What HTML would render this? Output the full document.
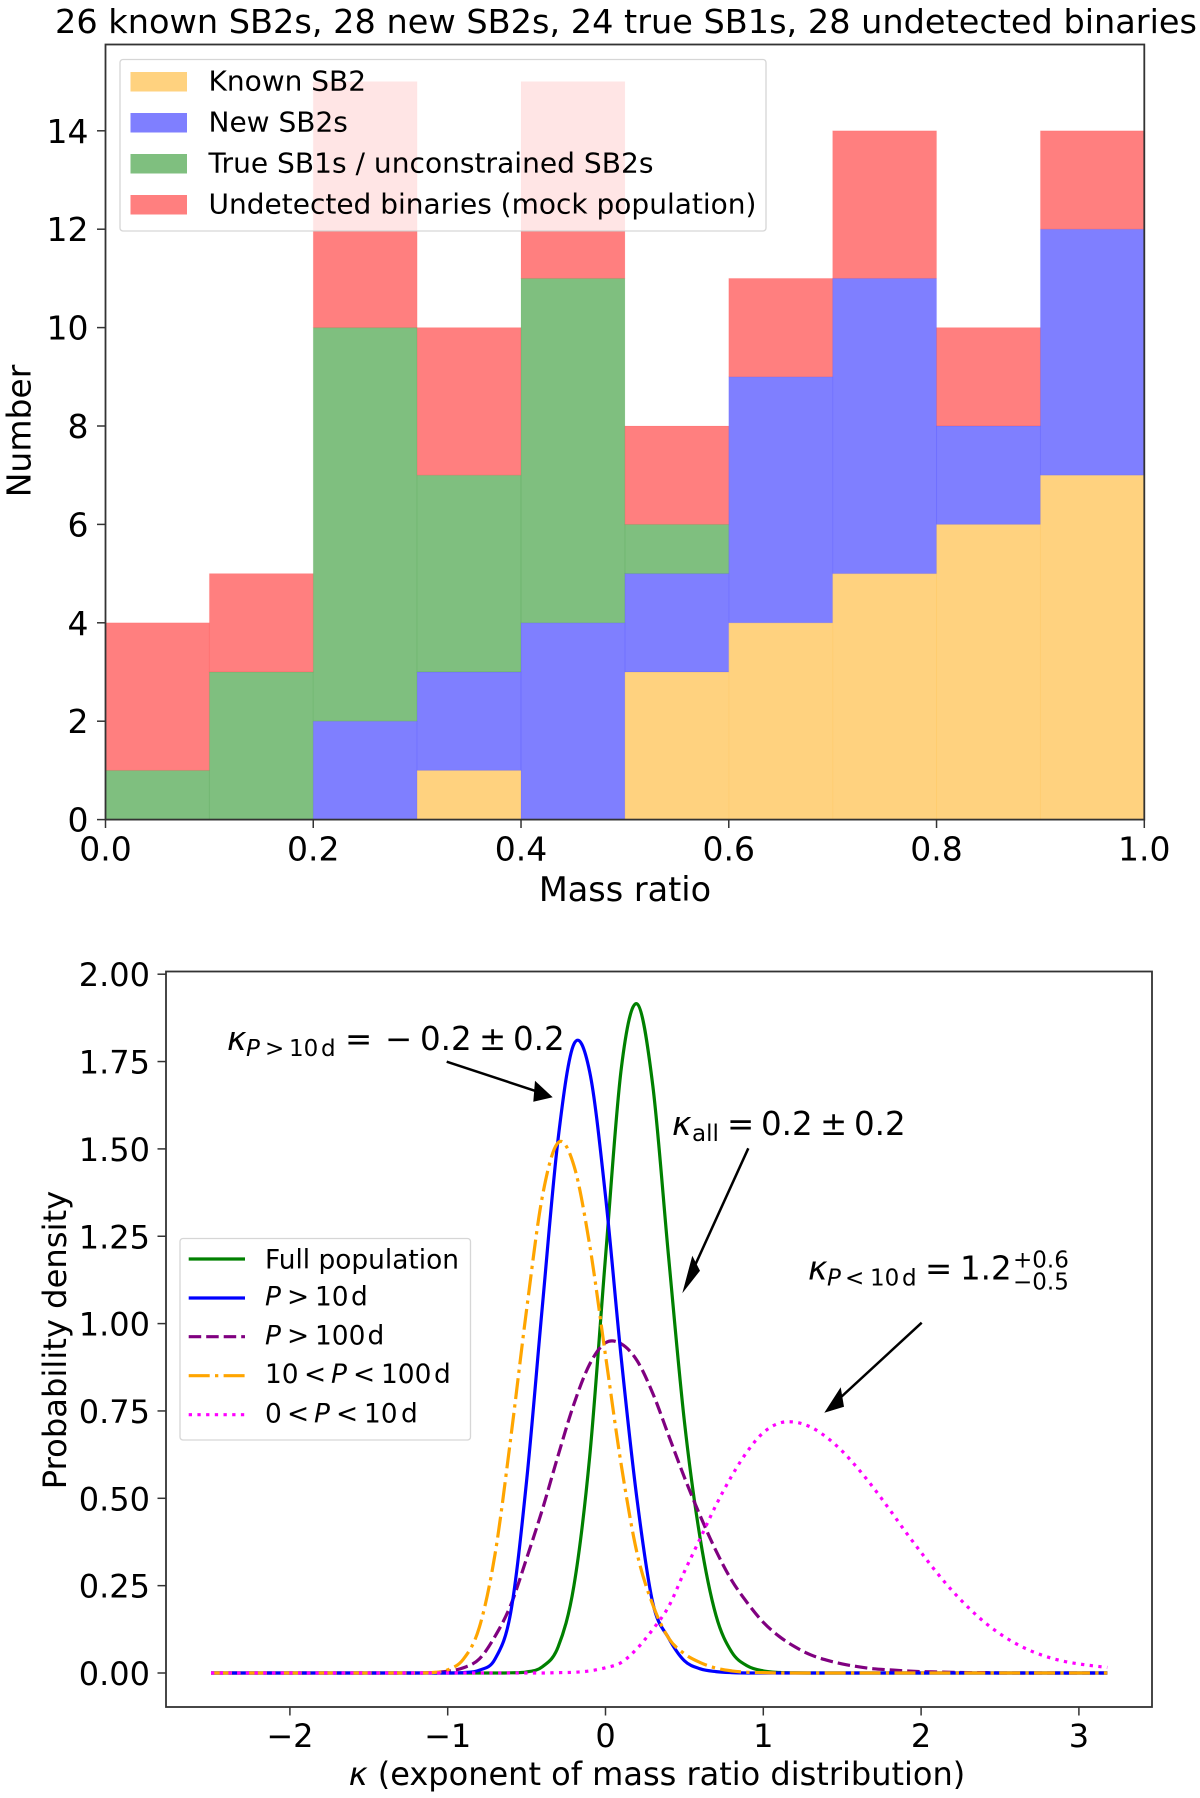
<!DOCTYPE html>
<html lang="en">
<head>
<meta charset="utf-8">
<title>Mass ratio distribution</title>
<style>
  html, body { margin: 0; padding: 0; background: #fff; }
  svg { display: block; font-family: "DejaVu Sans", "Liberation Sans", sans-serif; fill: #000; }
  .it { font-style: italic; }
</style>
</head>
<body>
<svg id="figure" xmlns="http://www.w3.org/2000/svg" width="1200" height="1798" viewBox="0 0 1200 1798">
  <rect x="0" y="0" width="1200" height="1798" fill="#fff"></rect>

  <text x="55" y="33" font-size="32.5" textLength="1142" lengthAdjust="spacingAndGlyphs">26 known SB2s, 28 new SB2s, 24 true SB1s, 28 undetected binaries</text>
  <g id="hist-bars"></g>
  <g id="hist-axes"></g>
  <text x="625" y="901" font-size="33.5" text-anchor="middle">Mass ratio</text>
  <text transform="translate(30.5 431) rotate(-90)" font-size="33" text-anchor="middle">Number</text>

  <g>
    <rect x="120" y="59.5" width="646" height="171.5" rx="3" fill="#fff" fill-opacity="0.8" stroke="#ccc" stroke-opacity="0.8" stroke-width="1.3"></rect>
    <rect x="130.5" y="72" width="56.5" height="19.5" fill="#ffa500" fill-opacity="0.5"></rect>
    <text x="208.5" y="90.5" font-size="28">Known SB2</text>
    <rect x="130.5" y="113" width="56.5" height="19.5" fill="#0000ff" fill-opacity="0.5"></rect>
    <text x="208.5" y="131.5" font-size="28">New SB2s</text>
    <rect x="130.5" y="154" width="56.5" height="19.5" fill="#008000" fill-opacity="0.5"></rect>
    <text x="208.5" y="172.5" font-size="28" textLength="445" lengthAdjust="spacingAndGlyphs">True SB1s / unconstrained SB2s</text>
    <rect x="130.5" y="195" width="56.5" height="19.5" fill="#ff0000" fill-opacity="0.5"></rect>
    <text x="208.5" y="213.5" font-size="28">Undetected binaries (mock population)</text>
  </g>

  <g id="density-curves"></g>
  <g id="density-axes"></g>
  <text x="657" y="1785" font-size="32" text-anchor="middle"><tspan class="it">κ</tspan> (exponent of mass ratio distribution)</text>
  <text transform="translate(66 1340) rotate(-90)" font-size="32.2" text-anchor="middle">Probability density</text>

  <g>
    <text font-size="32.5" y="1050"><tspan class="it" x="227" font-size="33">κ</tspan><tspan class="it" x="246" y="1056" font-size="23">P</tspan><tspan x="265" y="1056" font-size="23">&gt;</tspan><tspan x="289" y="1056" font-size="23">10</tspan><tspan x="321" y="1056" font-size="23">d</tspan><tspan x="345" y="1050">=</tspan><tspan x="385" y="1050">−</tspan><tspan x="420" y="1050">0.2</tspan><tspan x="479" y="1050">±</tspan><tspan x="513" y="1050">0.2</tspan></text>
    <line x1="446.7" y1="1061.7" x2="538" y2="1091.8" stroke="#000" stroke-width="2.5"></line>
    <polygon points="552.7,1097.3 533.3,1101.7 535,1080.7" fill="#000"></polygon>
  </g>
  <g>
    <text font-size="32.5" y="1135"><tspan class="it" x="672" font-size="33">κ</tspan><tspan x="692" y="1141" font-size="23">all</tspan><tspan x="727" y="1135">=</tspan><tspan x="761" y="1135">0.2</tspan><tspan x="820" y="1135">±</tspan><tspan x="854" y="1135">0.2</tspan></text>
    <line x1="748.3" y1="1148.3" x2="692" y2="1272" stroke="#000" stroke-width="2.5"></line>
    <polygon points="682.3,1293.3 692.3,1255.7 700,1270.7" fill="#000"></polygon>
  </g>
  <g>
    <text font-size="32.5" y="1279.5"><tspan class="it" x="808" font-size="33">κ</tspan><tspan class="it" x="827" y="1285.5" font-size="23">P</tspan><tspan x="845" y="1285.5" font-size="23">&lt;</tspan><tspan x="870" y="1285.5" font-size="23">10</tspan><tspan x="902" y="1285.5" font-size="23">d</tspan><tspan x="925" y="1279.5">=</tspan><tspan x="960" y="1279.5">1.2</tspan><tspan x="1013" y="1267.5" font-size="23">+0.6</tspan><tspan x="1013" y="1289.5" font-size="23">−0.5</tspan></text>
    <line x1="921.7" y1="1322.7" x2="840" y2="1398" stroke="#000" stroke-width="2.5"></line>
    <polygon points="824.3,1412.7 840.7,1387.3 844,1406.7" fill="#000"></polygon>
  </g>

  <g>
    <rect x="180" y="1238.5" width="290.5" height="201.5" rx="3" fill="#fff" fill-opacity="0.8" stroke="#ccc" stroke-opacity="0.8" stroke-width="1.3"></rect>
    <line x1="188.7" x2="245" y1="1259" y2="1259" stroke="#008000" stroke-width="3.2"></line>
    <text x="265" y="1268.5" font-size="26.4">Full population</text>
    <line x1="188.7" x2="245" y1="1298" y2="1298" stroke="#0000ff" stroke-width="3.2"></line>
    <text font-size="26.4" y="1305.5"><tspan class="it" x="265">P</tspan><tspan x="287">&gt;</tspan><tspan x="315">10</tspan><tspan x="351">d</tspan></text>
    <line x1="188.7" x2="245" y1="1336.7" y2="1336.7" stroke="#800080" stroke-width="3.2" stroke-dasharray="12.5 5"></line>
    <text font-size="26.4" y="1344.5"><tspan class="it" x="265">P</tspan><tspan x="287">&gt;</tspan><tspan x="315">100</tspan><tspan x="367.5">d</tspan></text>
    <line x1="188.7" x2="245" y1="1375.7" y2="1375.7" stroke="#ffa500" stroke-width="3.2" stroke-dasharray="21 5.3 3.3 5.3"></line>
    <text font-size="26.4" y="1383"><tspan x="265">10</tspan><tspan x="304">&lt;</tspan><tspan class="it" x="331">P</tspan><tspan x="353">&lt;</tspan><tspan x="381">100</tspan><tspan x="434">d</tspan></text>
    <line x1="188.7" x2="245" y1="1414.7" y2="1414.7" stroke="#ff00ff" stroke-width="3.2" stroke-dasharray="3.3 5.4"></line>
    <text font-size="26.4" y="1422.5"><tspan x="265">0</tspan><tspan x="287">&lt;</tspan><tspan class="it" x="314">P</tspan><tspan x="336">&lt;</tspan><tspan x="364">10</tspan><tspan x="401">d</tspan></text>
  </g>
</svg>

<script>
// Histogram data (counts per mass-ratio bin)
const binEdges = [0, 0.1, 0.2, 0.3, 0.4, 0.5, 0.6, 0.7, 0.8, 0.9, 1.0];
const knownSB2 = [0, 0, 0, 1, 0, 3, 4, 5, 6, 7];
const newSB2 = [0, 0, 2, 2, 4, 2, 5, 6, 2, 5];
const trueSB1 = [1, 3, 8, 4, 7, 1, 0, 0, 0, 0];
const undetected = [3, 2, 5, 3, 4, 2, 2, 3, 2, 2];
const histXTicks = [0, 0.2, 0.4, 0.6, 0.8, 1.0];
const histXTickLabels = ['0.0', '0.2', '0.4', '0.6', '0.8', '1.0'];
const histYTicks = [0, 2, 4, 6, 8, 10, 12, 14];

// Density data (at shared kappa positions)
const kappaGrid = [-2.5, -2, -1.5, -1.2,
  -1.1, -1.0, -0.9, -0.8, -0.7, -0.6, -0.5, -0.4, -0.3, -0.2, -0.1,
  0, 0.1, 0.2, 0.3, 0.4, 0.5, 0.6, 0.7, 0.8, 0.9,
  1.0, 1.1, 1.2, 1.3, 1.4, 1.5, 1.6, 1.7, 1.8, 1.9,
  2.0, 2.1, 2.2, 2.3, 2.4, 2.5, 2.6, 2.7, 2.8, 2.9,
  3.0, 3.1, 3.18];
const densityFull = [0, 0, 0, 0,
  0, 0, 0, 0, 0, 0.0005, 0.003, 0.018, 0.075, 0.25, 0.62,
  1.19, 1.73, 1.915, 1.68, 1.19, 0.72, 0.385, 0.165, 0.06, 0.02,
  0.006, 0.0015, 0.0003, 0, 0, 0, 0, 0, 0, 0,
  0, 0, 0, 0, 0, 0, 0, 0, 0, 0,
  0, 0, 0];
const densityGt10 = [0, 0, 0, 0,
  0, 0, 0.001, 0.008, 0.04, 0.175, 0.55, 1.05, 1.53, 1.80, 1.72,
  1.365, 0.90, 0.496, 0.20, 0.10, 0.035, 0.012, 0.004, 0.001, 0,
  0, 0, 0, 0, 0, 0, 0, 0, 0, 0,
  0, 0, 0, 0, 0, 0, 0, 0, 0, 0,
  0, 0, 0];
const densityGt100 = [0, 0, 0, 0,
  0.001, 0.005, 0.015, 0.04, 0.105, 0.195, 0.328, 0.468, 0.623, 0.77, 0.884,
  0.945, 0.942, 0.894, 0.80, 0.68, 0.56, 0.45, 0.35, 0.265, 0.2,
  0.145, 0.105, 0.075, 0.052, 0.037, 0.026, 0.018, 0.012, 0.009, 0.006,
  0.004, 0.003, 0.002, 0.001, 0.001, 0, 0, 0, 0, 0,
  0, 0, 0];
const density10to100 = [0, 0, 0, 0,
  0.001, 0.009, 0.04, 0.13, 0.34, 0.674, 1.04, 1.364, 1.518, 1.452, 1.224,
  0.909, 0.595, 0.343, 0.195, 0.10, 0.055, 0.03, 0.014, 0.006, 0.002,
  0.001, 0, 0, 0, 0, 0, 0, 0, 0, 0,
  0, 0, 0, 0, 0, 0, 0, 0, 0, 0,
  0, 0, 0];
const density0to10 = [0, 0, 0, 0,
  0, 0, 0, 0, 0, 0, 0, 0, 0.001, 0.002, 0.006,
  0.015, 0.03, 0.07, 0.125, 0.19, 0.29, 0.385, 0.48, 0.564, 0.635,
  0.688, 0.715, 0.718, 0.704, 0.675, 0.635, 0.585, 0.529, 0.468, 0.405,
  0.345, 0.287, 0.234, 0.187, 0.146, 0.112, 0.0843, 0.0625, 0.046, 0.034,
  0.026, 0.02, 0.016];
const densityXTicks = [-2, -1, 0, 1, 2, 3];
const densityXTickLabels = ['−2', '−1', '0', '1', '2', '3'];
const densityYTicks = [0, 0.25, 0.5, 0.75, 1.0, 1.25, 1.5, 1.75, 2.0];
const densityYTickLabels = ['0.00', '0.25', '0.50', '0.75', '1.00', '1.25', '1.50', '1.75', '2.00'];

const SVGNS = 'http://www.w3.org/2000/svg';
const SPINE = '#333';

// Axis functions
function histX(v) { return 105.5 + v * (1144.3 - 105.5); }
function histY(v) { return 819.6 - v * 49.2; }
function densX(v) { return 605.5 + v * 157.8; }
function densY(v) { return 1673 - v * 349.4; }

function make(tag, attrs, parent) {
  const el = document.createElementNS(SVGNS, tag);
  for (const k in attrs) el.setAttribute(k, attrs[k]);
  parent.appendChild(el);
  return el;
}

function curvePath(xs, ys) {
  const px = xs.map(densX);
  const py = ys.map(densY);
  const n = px.length;
  const m = [];
  for (let i = 0; i < n; i++) {
    const a = Math.max(i - 1, 0);
    const b = Math.min(i + 1, n - 1);
    m.push((py[b] - py[a]) / (px[b] - px[a]));
  }
  let d = 'M' + px[0].toFixed(2) + ' ' + py[0].toFixed(2);
  for (let i = 0; i < n - 1; i++) {
    const h = (px[i + 1] - px[i]) / 3;
    const c1y = Math.min(py[i] + m[i] * h, densY(0));
    const c2y = Math.min(py[i + 1] - m[i + 1] * h, densY(0));
    d += 'C' + (px[i] + h).toFixed(2) + ' ' + c1y.toFixed(2) + ' ' +
         (px[i + 1] - h).toFixed(2) + ' ' + c2y.toFixed(2) + ' ' +
         px[i + 1].toFixed(2) + ' ' + py[i + 1].toFixed(2);
  }
  return d;
}

// Histogram bars (stacked)
const barsGroup = document.getElementById('hist-bars');
const stackOrder = [
  { values: knownSB2, color: '#ffa500', key: 'known-sb2' },
  { values: newSB2, color: '#0000ff', key: 'new-sb2s' },
  { values: trueSB1, color: '#008000', key: 'true-sb1s' },
  { values: undetected, color: '#ff0000', key: 'undetected' }
];
for (let i = 0; i < knownSB2.length; i++) {
  let base = 0;
  for (const s of stackOrder) {
    const v = s.values[i];
    if (v > 0) {
      const bar = make('rect', {
        x: histX(binEdges[i]),
        y: histY(base + v),
        width: histX(binEdges[i + 1]) - histX(binEdges[i]),
        height: histY(base) - histY(base + v),
        fill: s.color,
        'fill-opacity': 0.5,
        stroke: s.color,
        'stroke-opacity': 0.07,
        'stroke-width': 1
      }, barsGroup);
      
      
    }
    base += v;
  }
}

// Histogram axes
const histAxes = document.getElementById('hist-axes');
const histFrame = make('rect', { x: 105.5, y: 44.5, width: 1038.8, height: 775.1, fill: 'none', stroke: SPINE, 'stroke-width': 1.8 }, histAxes);


histXTicks.forEach(function (t, i) {
  const mark = make('line', { x1: histX(t), x2: histX(t), y1: 819.6, y2: 828, stroke: SPINE, 'stroke-width': 1.5 }, histAxes);
  
  
  const label = make('text', { x: histX(t), y: 860.5, 'font-size': 33, 'text-anchor': 'middle' }, histAxes);
  label.textContent = histXTickLabels[i];
  
  
});
histYTicks.forEach(function (t) {
  const mark = make('line', { x1: 97, x2: 105.5, y1: histY(t), y2: histY(t), stroke: SPINE, 'stroke-width': 1.5 }, histAxes);
  
  
  const label = make('text', { x: 88.5, y: histY(t) + 12, 'font-size': 33, 'text-anchor': 'end' }, histAxes);
  label.textContent = String(t);
  
  
});

// Density curves
const curvesGroup = document.getElementById('density-curves');
const curveFull = make('path', { d: curvePath(kappaGrid, densityFull), fill: 'none', stroke: '#008000', 'stroke-width': 3.2 }, curvesGroup);


const curveGt100 = make('path', { d: curvePath(kappaGrid, densityGt100), fill: 'none', stroke: '#800080', 'stroke-width': 3.2, 'stroke-dasharray': '12.5 5' }, curvesGroup);


const curveGt10 = make('path', { d: curvePath(kappaGrid, densityGt10), fill: 'none', stroke: '#0000ff', 'stroke-width': 3.2 }, curvesGroup);


const curve10to100 = make('path', { d: curvePath(kappaGrid, density10to100), fill: 'none', stroke: '#ffa500', 'stroke-width': 3.2, 'stroke-dasharray': '21 5.3 3.3 5.3' }, curvesGroup);


const curve0to10 = make('path', { d: curvePath(kappaGrid, density0to10), fill: 'none', stroke: '#ff00ff', 'stroke-width': 3.2, 'stroke-dasharray': '3.3 5.4' }, curvesGroup);



// Density axes
const densAxes = document.getElementById('density-axes');
const densFrame = make('rect', { x: 166, y: 971.5, width: 986, height: 735.5, fill: 'none', stroke: SPINE, 'stroke-width': 1.8 }, densAxes);


densityXTicks.forEach(function (t, i) {
  const mark = make('line', { x1: densX(t), x2: densX(t), y1: 1707, y2: 1715.5, stroke: SPINE, 'stroke-width': 1.5 }, densAxes);
  
  
  const label = make('text', { x: densX(t), y: 1747, 'font-size': 32, 'text-anchor': 'middle' }, densAxes);
  label.textContent = densityXTickLabels[i];
  
  
});
densityYTicks.forEach(function (t, i) {
  const mark = make('line', { x1: 157.5, x2: 166, y1: densY(t), y2: densY(t), stroke: SPINE, 'stroke-width': 1.5 }, densAxes);
  
  
  const label = make('text', { x: 150, y: densY(t) + 12, 'font-size': 32, 'text-anchor': 'end' }, densAxes);
  label.textContent = densityYTickLabels[i];
  
  
});
</script>
</body>
</html>
